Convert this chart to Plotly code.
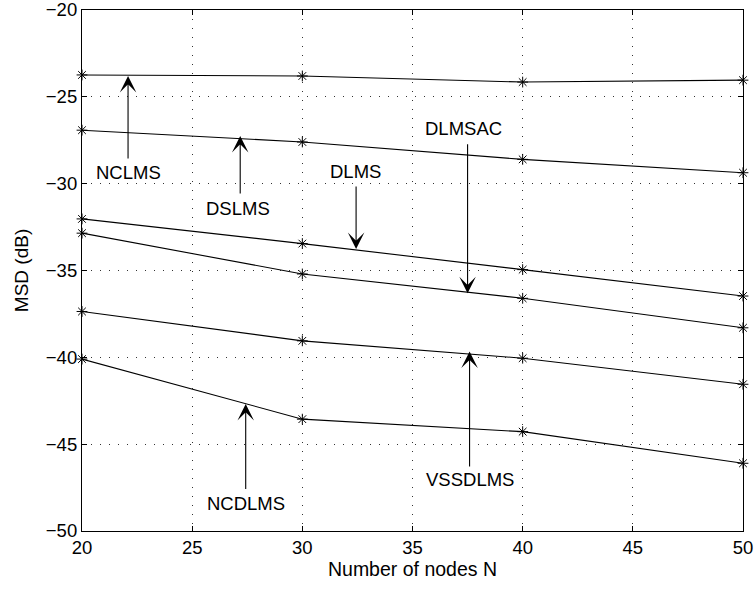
import plotly.graph_objects as go

nodes = [20, 30, 40, 50]
nclms = [-23.74, -23.80, -24.15, -24.04]
dslms = [-26.92, -27.60, -28.60, -29.37]
dlms = [-32.03, -33.45, -34.95, -36.47]
dlmsac = [-32.85, -35.20, -36.60, -38.30]
vssdlms = [-37.36, -39.05, -40.05, -41.55]
ncdlms = [-40.10, -43.56, -44.28, -46.10]

series = [nclms, dslms, dlms, dlmsac, vssdlms, ncdlms]

# label text, text position (x, y), arrow tail (x, y), arrow head (x, y)
labels = ["NCLMS", "DSLMS", "DLMS", "DLMSAC", "VSSDLMS", "NCDLMS"]
text_pos = [(22.09, -29.38), (27.10, -31.42), (32.40, -29.31), (37.30, -26.85), (37.59, -47.06), (27.43, -48.40)]
tail_pos = [(22.09, -28.64), (27.18, -30.65), (32.44, -30.07), (37.50, -27.65), (37.59, -46.37), (27.43, -47.67)]
head_pos = [(22.09, -23.80), (27.18, -27.25), (32.44, -33.76), (37.50, -36.31), (37.59, -39.67), (27.43, -42.68)]

FONT = "Liberation Sans, Arial, Helvetica, sans-serif"

fig = go.Figure()
for s in series:
    fig.add_trace(go.Scatter(
        x=nodes, y=s, mode="lines+markers",
        line=dict(color="black", width=1.1),
        marker=dict(symbol="asterisk-open", size=9, color="black",
                    line=dict(color="black", width=1)),
        showlegend=False, cliponaxis=False,
    ))

for lab, tp, tl, hd in zip(labels, text_pos, tail_pos, head_pos):
    fig.add_annotation(x=hd[0], y=hd[1], ax=tl[0], ay=tl[1],
                       xref="x", yref="y", axref="x", ayref="y",
                       text="", showarrow=True, arrowhead=3, arrowsize=2.5,
                       arrowwidth=1.1, arrowcolor="black")
    fig.add_annotation(x=tp[0], y=tp[1], xref="x", yref="y", text=lab,
                       showarrow=False, font=dict(family=FONT, size=18.5, color="black"))

axis_common = dict(
    showline=True, linecolor="black", linewidth=1.2, mirror="allticks",
    ticks="inside", ticklen=5, tickcolor="black", tickwidth=1,
    showgrid=True, gridcolor="rgba(0,0,0,0.8)", gridwidth=1, griddash="1px,8px",
    zeroline=False, tickfont=dict(family=FONT, size=18.5, color="black"),
    dtick=5, automargin=False, ticklabeloverflow="allow",
)

fig.update_xaxes(range=[20, 50], tick0=20,
                 title=dict(text="Number of nodes N", font=dict(family=FONT, size=19.5, color="black"), standoff=2),
                 **axis_common)
fig.update_yaxes(range=[-50, -20], tick0=-50,
                 title=dict(text="MSD (dB)", font=dict(family=FONT, size=19, color="black"), standoff=12),
                 **axis_common)

fig.update_layout(
    width=756, height=590,
    margin=dict(l=82, r=13, t=10, b=59),
    paper_bgcolor="white", plot_bgcolor="white",
    font=dict(family=FONT, color="black"),
)

fig.write_html("out.html")
